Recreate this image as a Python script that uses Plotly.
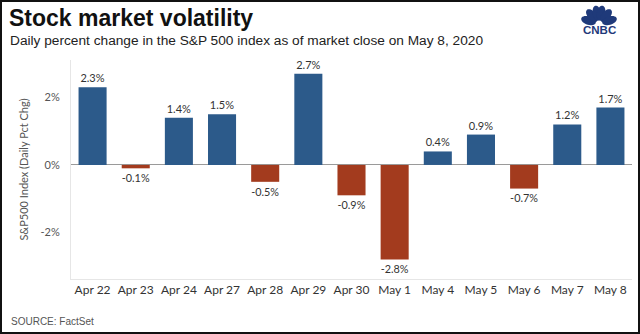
import numpy as np
import plotly.graph_objects as go

# Daily percent change of the S&P 500
dates = ["Apr 22", "Apr 23", "Apr 24", "Apr 27", "Apr 28", "Apr 29", "Apr 30",
         "May 1", "May 4", "May 5", "May 6", "May 7", "May 8"]
pct_change = [2.3, -0.1, 1.4, 1.5, -0.5, 2.7, -0.9, -2.8, 0.4, 0.9, -0.7, 1.2, 1.7]
y_ticks = [-2, 0, 2]
y_tick_labels = ["-2%", "0%", "2%"]

BLUE = "#2c5a8a"
RED = "#a33b1e"
NAVY = "#1f3a7a"

W, H = 640, 334
ML, MR, MT, MB = 71, 8, 60, 55
PW, PH = W - ML - MR, H - MT - MB


def px(x):
    """Pixel column -> paper x."""
    return (x - ML) / PW


def py(y):
    """Pixel row (from top) -> paper y."""
    return (H - MB - y) / PH


colors = [BLUE if v >= 0 else RED for v in pct_change]

fig = go.Figure(go.Bar(
    x=dates, y=pct_change,
    marker=dict(color=colors, line=dict(width=0)),
    width=0.65,
    texttemplate="%{y:.1f}%",
    textposition="outside",
    textfont=dict(family="Lato, Liberation Sans, sans-serif", size=11, color="#333333"),
    cliponaxis=False,
    hoverinfo="x+y",
))

fig.update_xaxes(
    showline=True, linecolor="#e6e6e6", linewidth=1,
    showgrid=False, ticks="",
    tickfont=dict(family="Lato, Liberation Sans, sans-serif", size=12, color="#333333"),
)
fig.update_yaxes(
    range=[-3.38, 3.11],
    tickvals=y_ticks, ticktext=y_tick_labels,
    showgrid=False, zeroline=True, zerolinecolor="#9a9a9a", zerolinewidth=1,
    showline=True, linecolor="#e6e6e6", linewidth=1,
    ticks="", ticklabelstandoff=8,
    tickfont=dict(family="Lato, Liberation Sans, sans-serif", size=11, color="#555555"),
    title=dict(text="S&P500 Index (Daily Pct Chg)", standoff=9,
               font=dict(family="Lato, Liberation Sans, sans-serif", size=11, color="#555555")),
)

annotations = [
    dict(text="<b>Stock market volatility</b>", x=px(7), y=py(18), xref="paper", yref="paper",
         xanchor="left", yanchor="middle", showarrow=False,
         font=dict(family="Liberation Sans, Arial, sans-serif", size=23, color="#111111")),
    dict(text="Daily percent change in the S&P 500 index as of market close on May 8, 2020",
         x=px(8), y=py(40), xref="paper", yref="paper",
         xanchor="left", yanchor="middle", showarrow=False,
         font=dict(family="Liberation Sans, Arial, sans-serif", size=13.7, color="#222222")),
    dict(text="SOURCE: FactSet", x=px(9), y=py(321), xref="paper", yref="paper",
         xanchor="left", yanchor="middle", showarrow=False,
         font=dict(family="Liberation Sans, Arial, sans-serif", size=10, color="#555555")),
    dict(text="<b>CNBC</b>", x=px(599), y=py(30), xref="paper", yref="paper",
         xanchor="center", yanchor="middle", showarrow=False,
         font=dict(family="Liberation Sans, Arial, sans-serif", size=11.5, color=NAVY)),
]

shapes = [
    # outer frame
    dict(type="rect", xref="paper", yref="paper",
         x0=px(1), x1=px(W - 1), y0=py(H - 1), y1=py(1),
         line=dict(color="#111111", width=2), fillcolor="rgba(0,0,0,0)", layer="above"),
]

# peacock feathers of the logo, fanned above the wordmark
bx, by = 599.0, 24.0
for ang in np.radians([162, 130, 101, 79, 50, 18]):
    cx = bx + 11 * np.cos(ang)
    cy = by - 11 * np.sin(ang)
    t = np.linspace(0, 2 * np.pi, 32)
    a, b = 7.6, 4.2
    ex = a * np.cos(t)
    ey = b * np.sin(t)
    xs = cx + ex * np.cos(ang) - ey * np.sin(ang)
    ys = cy - (ex * np.sin(ang) + ey * np.cos(ang))
    path = "M " + " L ".join(f"{px(x):.5f},{py(y):.5f}" for x, y in zip(xs, ys)) + " Z"
    shapes.append(dict(type="path", xref="paper", yref="paper", path=path,
                       fillcolor=NAVY, line=dict(width=0)))

fig.update_layout(
    width=W, height=H,
    margin=dict(l=ML, r=MR, t=MT, b=MB),
    paper_bgcolor="white", plot_bgcolor="white",
    bargap=0.35, showlegend=False,
    annotations=annotations, shapes=shapes,
)

fig.write_html("out.html")
